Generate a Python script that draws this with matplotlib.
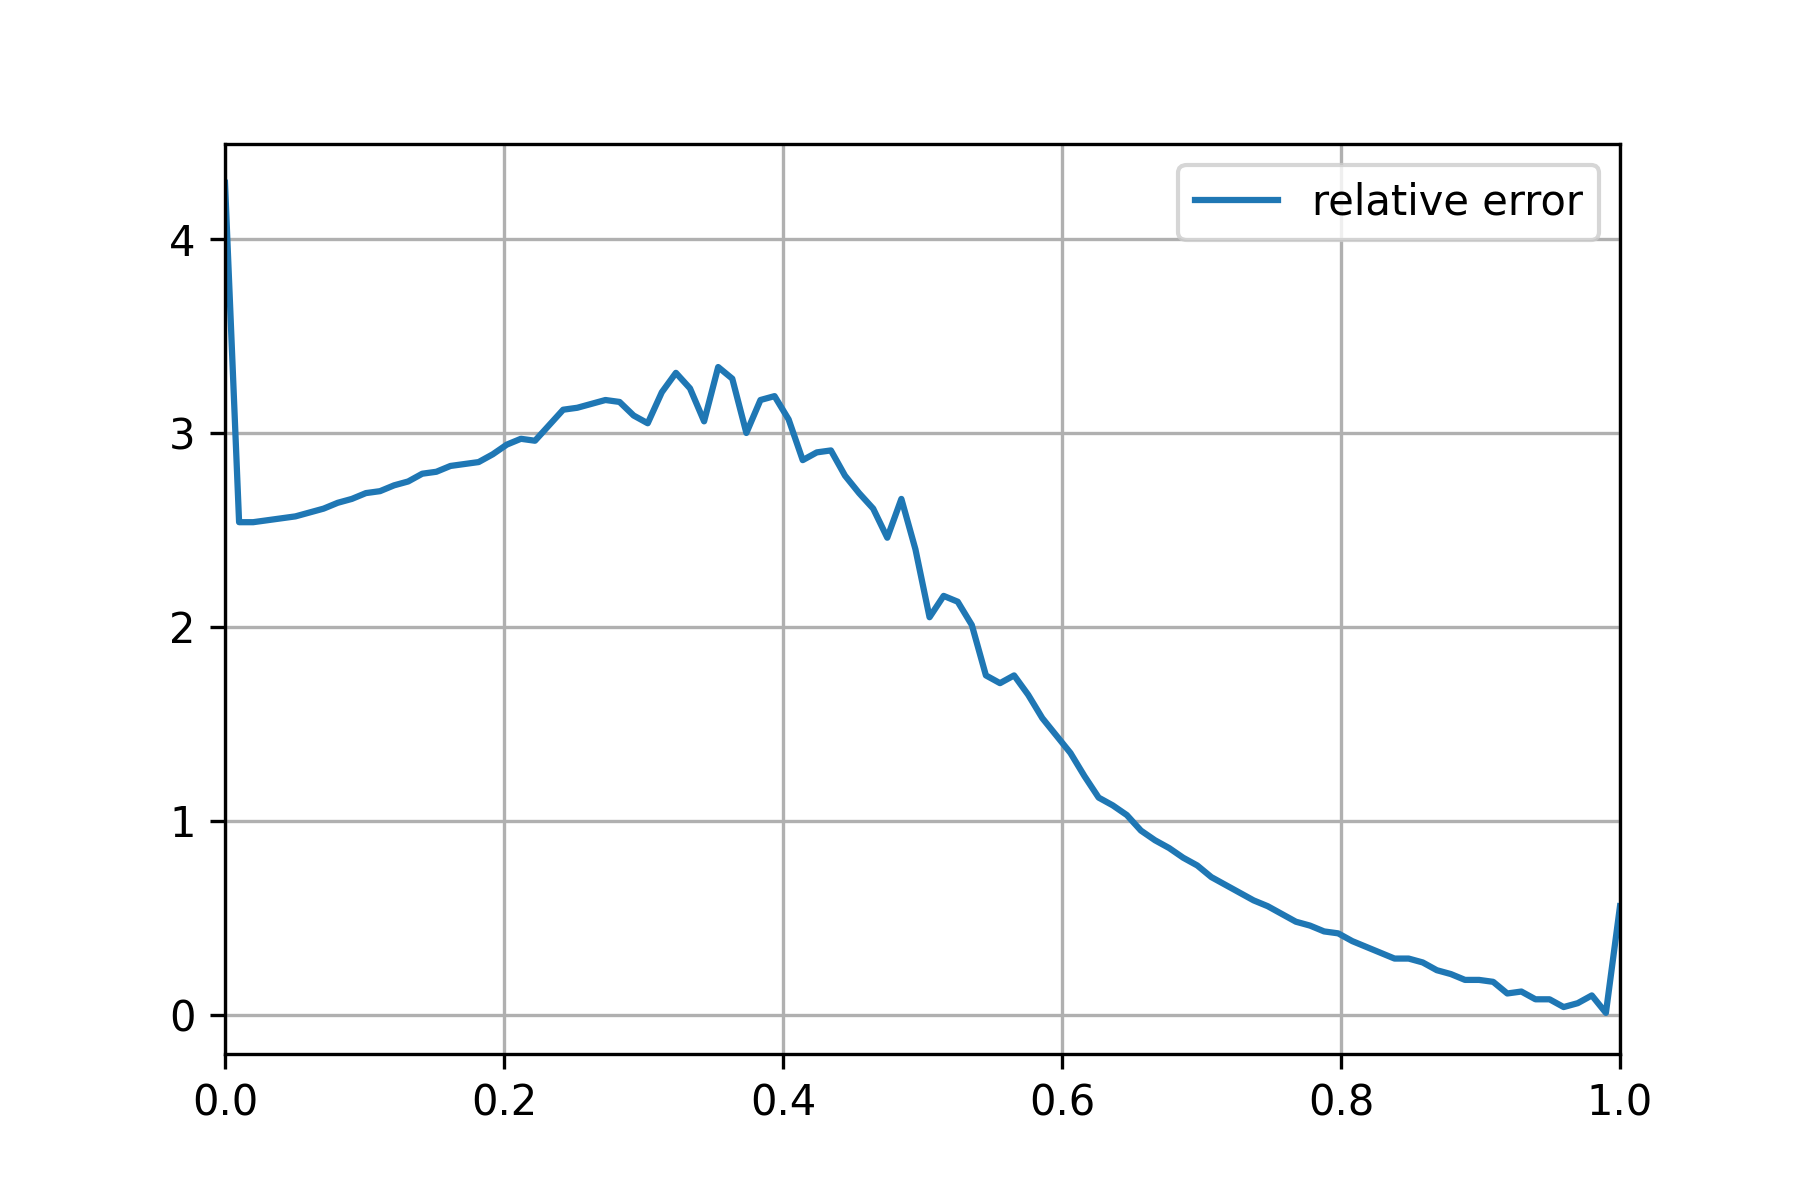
import numpy as np
import matplotlib.pyplot as plt

x = np.linspace(0, 1, 100)
rel_err = [
    4.29, 2.54, 2.54, 2.55, 2.56, 2.57, 2.59, 2.61, 2.64, 2.66,
    2.69, 2.70, 2.73, 2.75, 2.79, 2.80, 2.83, 2.84, 2.85, 2.89,
    2.94, 2.97, 2.96, 3.04, 3.12, 3.13, 3.15, 3.17, 3.16, 3.09,
    3.05, 3.21, 3.31, 3.23, 3.06, 3.34, 3.28, 3.00, 3.17, 3.19,
    3.07, 2.86, 2.90, 2.91, 2.78, 2.69, 2.61, 2.46, 2.66, 2.40,
    2.05, 2.16, 2.13, 2.01, 1.75, 1.71, 1.75, 1.65, 1.53, 1.44,
    1.35, 1.23, 1.12, 1.08, 1.03, 0.95, 0.90, 0.86, 0.81, 0.77,
    0.71, 0.67, 0.63, 0.59, 0.56, 0.52, 0.48, 0.46, 0.43, 0.42,
    0.38, 0.35, 0.32, 0.29, 0.29, 0.27, 0.23, 0.21, 0.18, 0.18,
    0.17, 0.11, 0.12, 0.08, 0.08, 0.04, 0.06, 0.10, 0.01, 0.56,
]

fig, ax = plt.subplots(figsize=(6, 4))
fig.subplots_adjust(bottom=0.122)
ax.plot(x, rel_err, label="relative error")
ax.set_xlim(0, 1)
ax.set_ylim(-0.2, 4.49)
ax.grid(True)
ax.legend(loc="upper right")
plt.savefig("out.png", dpi=300)
